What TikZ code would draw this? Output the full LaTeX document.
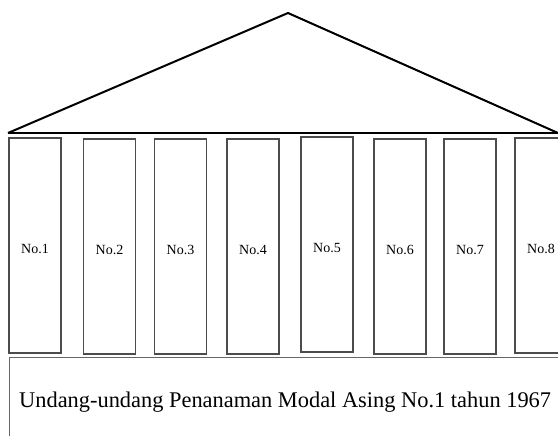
\documentclass[tikz,border=0pt]{standalone}
\usepackage{fontspec}
\setmainfont{Liberation Serif}

\begin{document}
\begin{tikzpicture}[x=1pt,y=-1pt]
    \useasboundingbox (0,0) rectangle (558,436);

        % roof
        \coordinate (apex) at (288,13);
        \coordinate (eaveL) at (8,133);
        \coordinate (eaveR) at (558,133);
        \draw[line width=2pt, line join=round] (eaveL) -- (apex) -- (eaveR);
        \draw[line width=2.4pt] (eaveL) -- ([xshift=4pt]eaveR);

        \begin{scope}[every node/.style={rectangle,draw=black!70,line width=1.1pt,minimum width=52pt,minimum height=215pt,inner sep=0pt,text height=16pt,text depth=0pt,font=\fontsize{14}{16}\selectfont}]
            \node (c1) at (35,245.5) {No.1};
            \node (c2) at (109.5,246.5) {No.2};
            \node (c3) at (180.5,246.5) {No.3};
            \node (c4) at (253,246.5) {No.4};
            \node (c5) at (327,244.5) {No.5};
            \node (c6) at (400,246.5) {No.6};
            \node (c7) at (470,246.5) {No.7};
            \node (c8) at (541,245.5) {No.8};
        \end{scope}

        % foundation
        \node[rectangle,draw=black!60,line width=1pt,anchor=north west,minimum width=570pt,minimum height=100pt,inner sep=0pt] (base) at (9,357) {};
        \node[anchor=base west,inner sep=0pt,font=\fontsize{22.4}{26}\selectfont] (law) at (19,407) {Undang-undang Penanaman Modal Asing No.1 tahun 1967};

    \end{tikzpicture}
\end{document}
